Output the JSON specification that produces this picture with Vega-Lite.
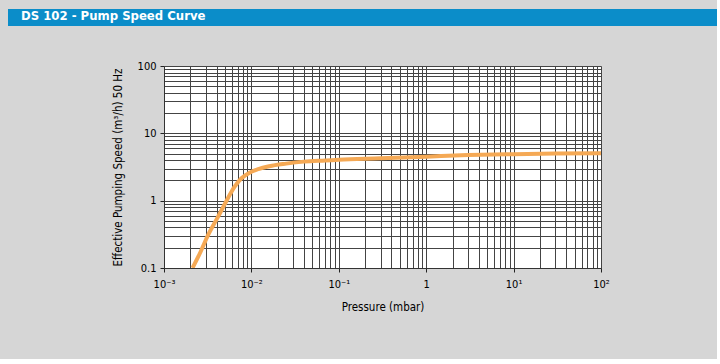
{
  "$schema": "https://vega.github.io/schema/vega-lite/v6.json",
  "background": "#d6d6d6",
  "padding": {"left": 8, "top": 9, "right": 0, "bottom": 46},
  "spacing": 34,
  "config": {
    "view": {"stroke": null},
    "font": "Liberation Sans Narrow, DejaVu Sans Condensed, sans-serif"
  },
  "vconcat": [
    {
      "width": 709,
      "height": 17,
      "view": {"fill": "#0b8dc9", "stroke": null},
      "title": {
        "text": "DS 102 - Pump Speed Curve",
        "anchor": "start",
        "frame": "group",
        "offset": -14,
        "dx": 13,
        "color": "white",
        "fontSize": 13,
        "fontWeight": "bold",
        "font": "Liberation Sans Narrow, DejaVu Sans Condensed, sans-serif"
      },
      "data": {"values": []},
      "mark": "point"
    },
    {
      "spacing": 0,
      "hconcat": [
        {
          "width": 104,
          "height": 202,
          "view": {"fill": "#d6d6d6", "stroke": null},
          "data": {"values": []},
          "mark": "point"
        },
        {
          "width": 437,
          "height": 202,
          "view": {"fill": "white", "stroke": null},
          "data": {
            "values": [
              {"pressure": 0.00212, "speed": 0.1},
              {"pressure": 0.0026, "speed": 0.17},
              {"pressure": 0.0032, "speed": 0.31},
              {"pressure": 0.0041, "speed": 0.56},
              {"pressure": 0.0052, "speed": 1.0},
              {"pressure": 0.0064, "speed": 1.6},
              {"pressure": 0.0077, "speed": 2.15},
              {"pressure": 0.0095, "speed": 2.6},
              {"pressure": 0.012, "speed": 2.95},
              {"pressure": 0.016, "speed": 3.25},
              {"pressure": 0.025, "speed": 3.55},
              {"pressure": 0.04, "speed": 3.8},
              {"pressure": 0.07, "speed": 3.95},
              {"pressure": 0.1, "speed": 4.05},
              {"pressure": 0.3, "speed": 4.25},
              {"pressure": 1, "speed": 4.5},
              {"pressure": 3, "speed": 4.75},
              {"pressure": 10, "speed": 4.9},
              {"pressure": 30, "speed": 5.0},
              {"pressure": 100, "speed": 5.05}
            ]
          },
          "mark": {"type": "line", "color": "#f5a955", "strokeWidth": 4, "interpolate": "monotone", "clip": true},
          "encoding": {
            "x": {
              "field": "pressure",
              "type": "quantitative",
              "scale": {"type": "log", "domain": [0.001, 100], "nice": false},
              "axis": {
                "title": "Pressure (mbar)",
                "values": [0.001,0.002,0.003,0.004,0.005,0.006,0.007,0.008,0.009,0.01,0.02,0.03,0.04,0.05,0.06,0.07,0.08,0.09,0.1,0.2,0.3,0.4,0.5,0.6,0.7,0.8,0.9,1,2,3,4,5,6,7,8,9,10,20,30,40,50,60,70,80,90,100],
                "labelExpr": "datum.value == 0.001 ? '10⁻³' : datum.value == 0.01 ? '10⁻²' : datum.value == 0.1 ? '10⁻¹' : datum.value == 1 ? '1' : datum.value == 10 ? '10¹' : datum.value == 100 ? '10²' : ''",
                "labelOverlap": false,
                "labelBound": false,
                "labelFlush": false,
                "labelFontSize": 11,
                "labelColor": "black",
                "labelPadding": 6,
                "grid": true,
                "gridColor": "#444",
                "gridWidth": 1,
                "gridOpacity": 1,
                "tickColor": "#222",
                "tickSize": 4,
                "tickOpacity": {"condition": {"test": "datum.value == 0.001 || datum.value == 0.01 || datum.value == 0.1 || datum.value == 1 || datum.value == 10 || datum.value == 100", "value": 1}, "value": 0},
                "domainColor": "#333",
                "titleFontSize": 11.5,
                "titleFontWeight": "normal",
                "titleColor": "black",
                "titlePadding": 12
              }
            },
            "y": {
              "field": "speed",
              "type": "quantitative",
              "scale": {"type": "log", "domain": [0.1, 100], "nice": false},
              "axis": {
                "title": "Effective Pumping Speed (m³/h) 50 Hz",
                "values": [0.1,0.2,0.3,0.4,0.5,0.6,0.7,0.8,0.9,1,2,3,4,5,6,7,8,9,10,20,30,40,50,60,70,80,90,100],
                "labelExpr": "datum.value == 0.1 ? '0.1' : datum.value == 1 ? '1' : datum.value == 10 ? '10' : datum.value == 100 ? '100' : ''",
                "labelOverlap": false,
                "labelBound": false,
                "labelFlush": false,
                "labelFontSize": 11,
                "labelColor": "black",
                "labelPadding": 4,
                "grid": true,
                "gridColor": "#444",
                "gridWidth": 1,
                "gridOpacity": 1,
                "tickColor": "#222",
                "tickSize": 4,
                "tickOpacity": {"condition": {"test": "datum.value == 0.1 || datum.value == 1 || datum.value == 10 || datum.value == 100", "value": 1}, "value": 0},
                "domainColor": "#333",
                "titleFontSize": 11.5,
                "titleFontWeight": "normal",
                "titleColor": "black",
                "titlePadding": 14
              }
            }
          }
        }
      ]
    }
  ]
}
